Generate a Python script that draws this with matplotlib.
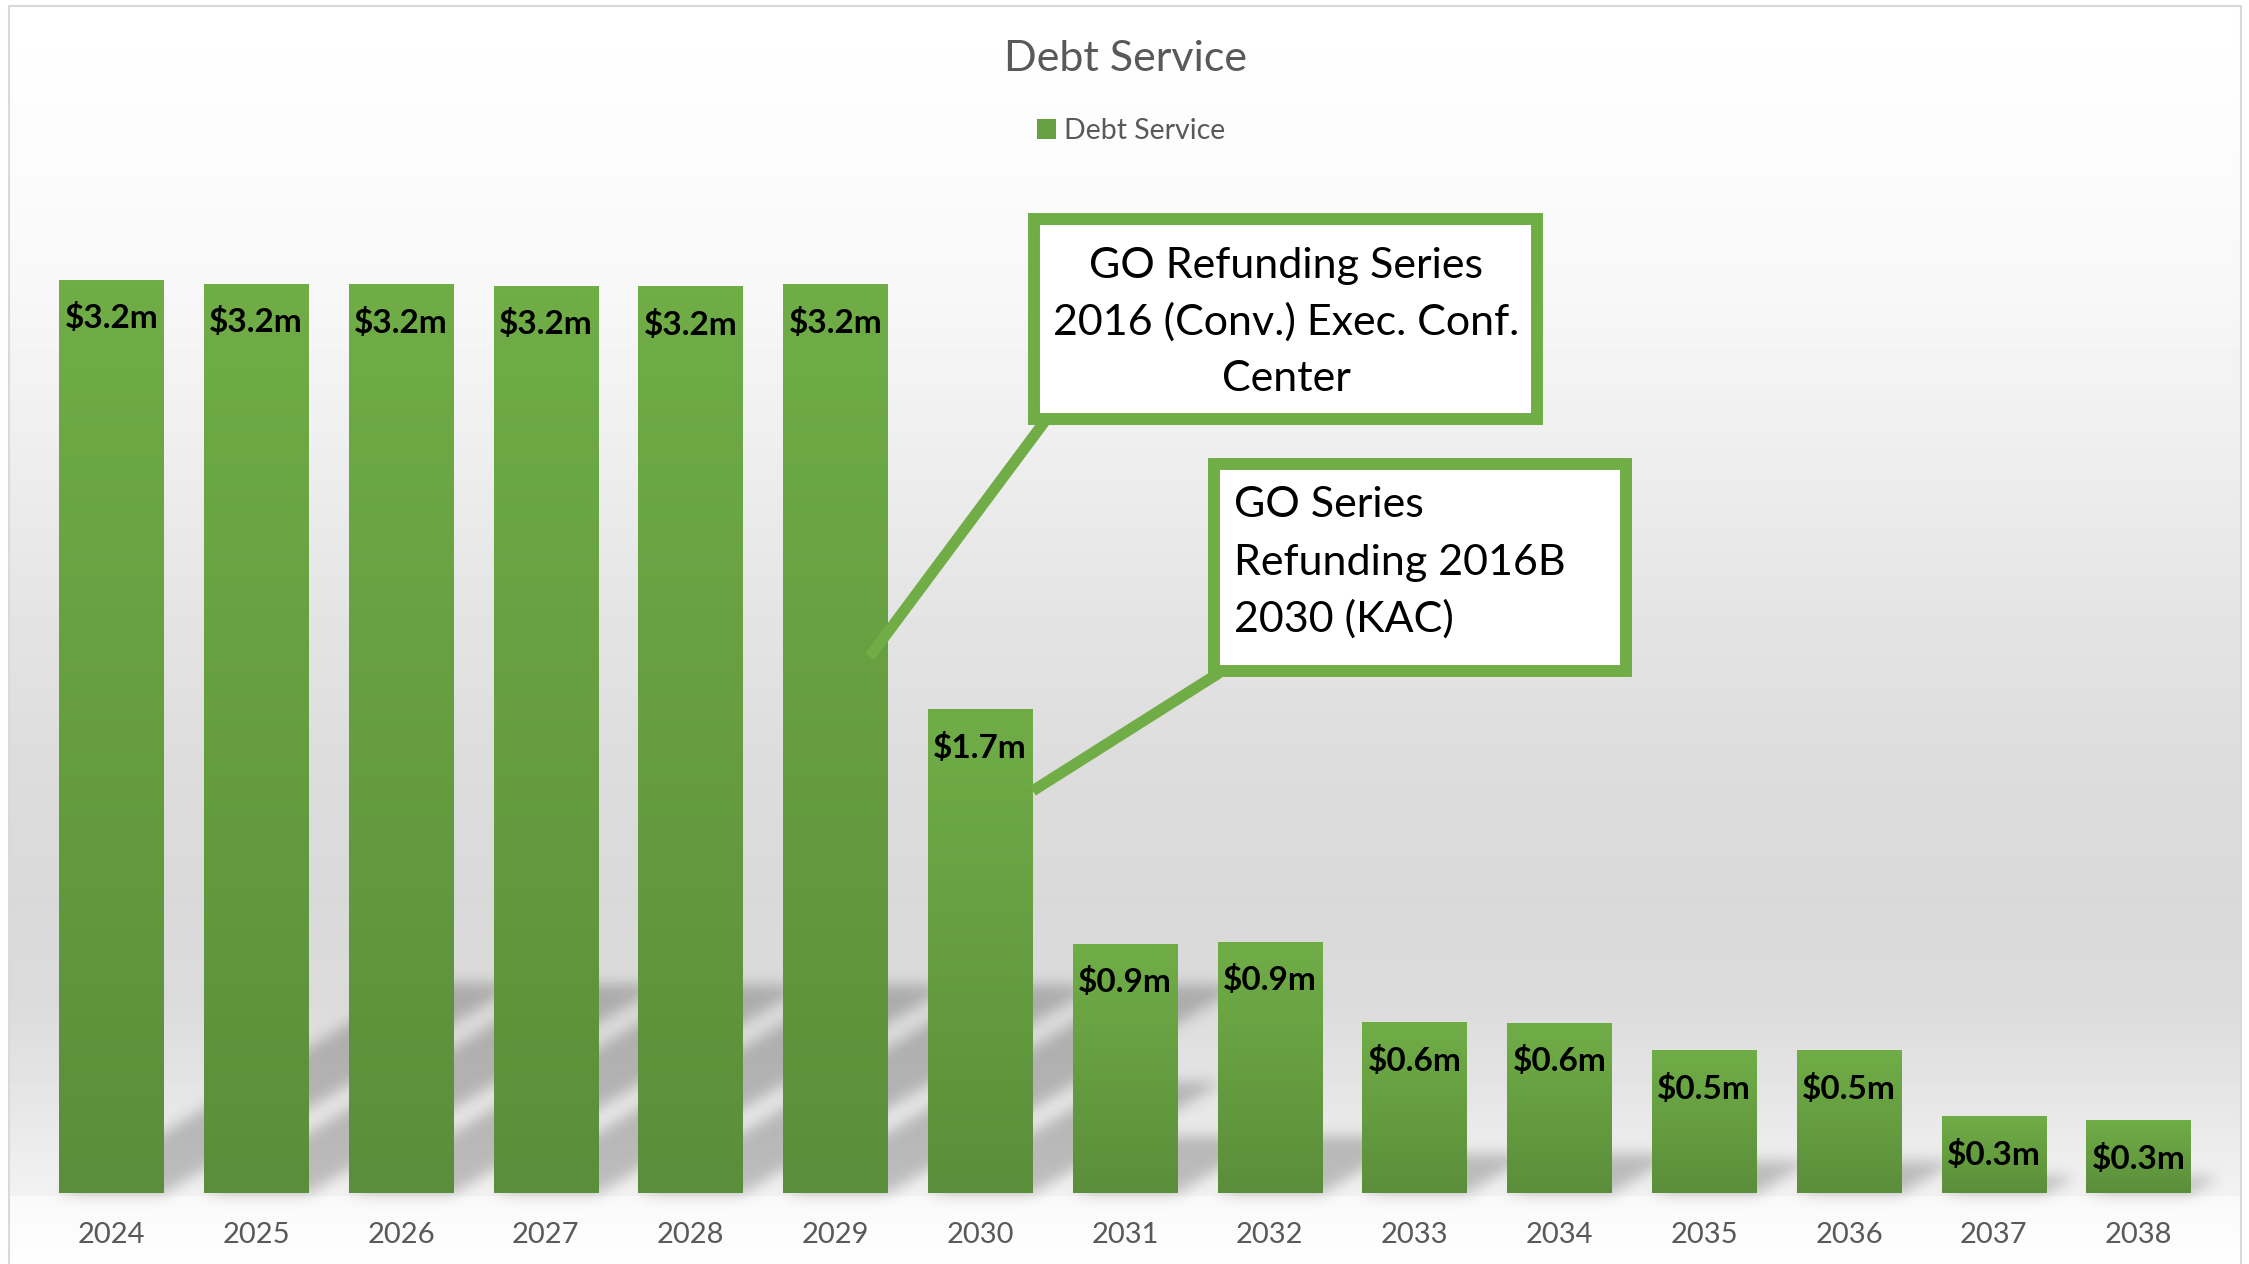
import numpy as np
import matplotlib

matplotlib.use("Agg")
import matplotlib.pyplot as plt
from matplotlib.colors import LinearSegmentedColormap
from matplotlib.lines import Line2D
from matplotlib.patches import ConnectionPatch, Patch, Rectangle

YEARS = ["2024", "2025", "2026", "2027", "2028", "2029", "2030", "2031",
         "2032", "2033", "2034", "2035", "2036", "2037", "2038"]
DEBT_SERVICE_M = [3.200, 3.186, 3.183, 3.179, 3.176, 3.183, 1.696, 0.873,
                  0.880, 0.599, 0.596, 0.501, 0.501, 0.270, 0.256]

CONV_CENTER_NOTE = ["GO Refunding Series", "2016 (Conv.) Exec. Conf.", "Center"]
KAC_NOTE = ["GO Series", "Refunding 2016B", "2030 (KAC)"]

W, H = 2249, 1264
DPI = 100

GREEN = "#70AD47"
GREEN_DARK = "#5B8E3A"
TEXT_GRAY = "#595959"
BORDER_GRAY = "#D9D9D9"

BAR_W = 0.72
SHADOW_K = 0.23       # shadow length relative to bar height
SHADOW_SLANT = 1.7    # horizontal px per px of shadow height
SHADOW_ALPHA = 0.22

plt.rcParams["font.family"] = ["Lato", "DejaVu Sans"]


def fx(px):
    return px / W


def fy(py):
    return 1 - py / H


def gaussian_blur(img, sigma):
    ky = np.fft.fftfreq(img.shape[0])
    kx = np.fft.rfftfreq(img.shape[1])
    g = np.exp(-2 * (np.pi * sigma) ** 2 * (ky[:, None] ** 2 + kx[None, :] ** 2))
    return np.fft.irfft2(np.fft.rfft2(img) * g, s=img.shape)


fig = plt.figure(figsize=(W / DPI, H / DPI), dpi=DPI)
fig.patch.set_facecolor("white")

bg_ax = fig.add_axes([0, 0, 1, 1], zorder=0)
bg_ax.set_axis_off()

ax = fig.add_axes([fx(39), fy(1193), fx(2211) - fx(39), fy(194) - fy(1193)], zorder=1)
ax.patch.set_alpha(0)
x = np.arange(len(YEARS))
ax.set_xlim(-0.5, len(YEARS) - 0.5)
ax.set_ylim(0, 3.5)

# background: soft vertical gradient plus slanted shadows behind the bars
base_row = H - ax.transData.transform((0, 0))[1]
rows = np.arange(H, dtype=float)
shade = np.interp(rows, [0, 150, 300, 450, 600, 750, 900, 1000, 1100, base_row],
                  [255, 252, 247, 238, 229, 221, 217, 219, 230, 242])
below = rows > base_row + 2
shade[below] = np.interp(rows[below], [base_row, H], [249, 254])

yy, xx = np.mgrid[0:H, 0:W]
shadow = np.zeros((H, W))
for xi, v in zip(x, DEBT_SERVICE_M):
    (l, b), (r, t) = ax.transData.transform([(xi - BAR_W / 2, 0), (xi + BAR_W / 2, v)])
    lift = SHADOW_K * (t - b)
    h = (H - b) - yy
    inside = (h >= 0) & (h <= lift) & (xx >= l + SHADOW_SLANT * h) & (xx <= r + SHADOW_SLANT * h)
    shadow = np.maximum(shadow, inside)
shadow = np.clip(gaussian_blur(shadow, 7), 0, 1)

bg = shade[:, None] * (1 - SHADOW_ALPHA * shadow)
bg[:, :10] = 255
bg[:, 2241:] = 255
bg[:6, :] = 255
bg_ax.imshow(bg, cmap="gray", vmin=0, vmax=255, extent=(0, W, H, 0),
             aspect="auto", interpolation="nearest")
bg_ax.set_xlim(0, W)
bg_ax.set_ylim(H, 0)

# chart border
fig.add_artist(Line2D([fx(9), fx(9), fx(2241), fx(2241)], [0, fy(6), fy(6), 0],
                      transform=fig.transFigure, color=BORDER_GRAY, lw=1.5))

# bars with a top-to-bottom green gradient
bar_cmap = LinearSegmentedColormap.from_list("bar", [GREEN, GREEN_DARK])
grad = np.linspace(0, 1, 256)[:, None]
bars = ax.bar(x, DEBT_SERVICE_M, width=BAR_W, color=GREEN, zorder=2)
for patch in bars:
    bx, by = patch.get_x(), patch.get_y()
    im = ax.imshow(grad, cmap=bar_cmap, extent=(bx, bx + patch.get_width(), by, by + patch.get_height()),
                   aspect="auto", interpolation="bilinear", zorder=2.1)
    im.set_clip_path(patch)

for xi, v in zip(x, DEBT_SERVICE_M):
    ax.annotate(f"${v:.1f}m", xy=(xi, v), xytext=(0, -35), textcoords="offset points",
                ha="center", va="baseline", fontsize=24, fontweight="bold",
                color="black", zorder=4)

ax.set_xlim(-0.5, len(YEARS) - 0.5)
ax.set_ylim(0, 3.5)
ax.set_xticks(x, YEARS)
ax.set_yticks([])
ax.tick_params(axis="x", length=0, pad=21, labelsize=21, labelcolor=TEXT_GRAY)
for spine in ax.spines.values():
    spine.set_visible(False)

fig.text(fx(1126), fy(71), "Debt Service", ha="center", va="baseline",
         fontsize=31, color=TEXT_GRAY)
fig.legend(handles=[Patch(facecolor="#66A042", label="Debt Service")],
           loc="center", bbox_to_anchor=(fx(1131), fy(131)), frameon=False,
           fontsize=20.5, labelcolor=TEXT_GRAY, handlelength=0.67, handleheight=0.67,
           handletextpad=0.3, borderpad=0)

# callouts
leader_kw = dict(color=GREEN, lw=8, capstyle="butt", zorder=3)
fig.add_artist(ConnectionPatch(xyA=(fx(1045), fy(421)), coordsA=fig.transFigure,
                               xyB=(5.237, 1.879), coordsB=ax.transData, **leader_kw))
fig.add_artist(ConnectionPatch(xyA=(fx(1219), fy(673)), coordsA=fig.transFigure,
                               xyB=(6.363, 1.409), coordsB=ax.transData, **leader_kw))

box_kw = dict(transform=fig.transFigure, facecolor="white", edgecolor=GREEN,
              linewidth=8.6, zorder=5)
fig.add_artist(Rectangle((fx(1034), fy(419)), fx(1537) - fx(1034), fy(219) - fy(419), **box_kw))
fig.add_artist(Rectangle((fx(1214), fy(671)), fx(1626) - fx(1214), fy(464) - fy(671), **box_kw))

for line, py in zip(CONV_CENTER_NOTE, [278, 335, 391]):
    fig.text(fx(1286), fy(py), line, ha="center", va="baseline", fontsize=31,
             color="black", zorder=6)
for line, py in zip(KAC_NOTE, [517, 575, 632]):
    fig.text(fx(1234), fy(py), line, ha="left", va="baseline", fontsize=31,
             color="black", zorder=6)

fig.savefig("out.png", dpi=DPI)
